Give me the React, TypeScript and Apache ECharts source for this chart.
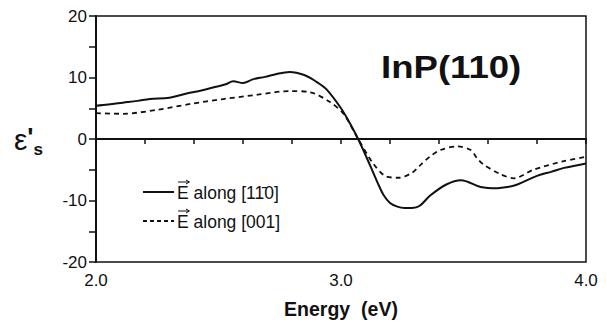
import React, { useEffect, useRef } from "react";
import * as echarts from "echarts";

const solidName = "E along [11\u03040]";
const dashedName = "E along [001]";

const solidEnergy = [2.0, 2.05, 2.11, 2.17, 2.22, 2.3, 2.37, 2.43, 2.49, 2.53, 2.56, 2.6, 2.64, 2.69, 2.73, 2.79, 2.85, 2.9, 2.94, 3.0, 3.03, 3.07, 3.12, 3.155, 3.175, 3.2, 3.23, 3.26, 3.29, 3.32, 3.364, 3.43, 3.49, 3.57, 3.64, 3.68, 3.72, 3.8, 3.86, 3.91, 3.96, 4.0];
const solidValues = [5.4, 5.6, 5.9, 6.2, 6.5, 6.7, 7.4, 7.9, 8.5, 8.9, 9.4, 9.1, 9.7, 10.1, 10.5, 10.9, 10.4, 9.3, 8.1, 5.0, 3.0, 0, -4.4, -7.6, -9.2, -10.4, -11.0, -11.2, -11.2, -10.9, -9.2, -7.4, -6.7, -7.8, -8.0, -7.8, -7.4, -6.0, -5.3, -4.7, -4.3, -4.0];

const dashedEnergy = [2.0, 2.11, 2.25, 2.385, 2.52, 2.66, 2.79, 2.875, 2.955, 3.01, 3.07, 3.13, 3.18, 3.235, 3.29, 3.325, 3.365, 3.405, 3.475, 3.53, 3.555, 3.58, 3.65, 3.705, 3.785, 3.91, 4.0];
const dashedValues = [4.2, 4.1, 4.75, 5.7, 6.5, 7.2, 7.8, 7.6, 6.0, 4.1, 0, -3.9, -6.0, -6.3, -5.5, -4.2, -2.8, -1.8, -1.2, -1.8, -3.1, -4.1, -5.7, -6.4, -5.0, -3.6, -2.9];

const xMajorLabels = [2, 3, 4];
const yMajorLabels = [-20, -10, 0, 10, 20];

const FONT = "Liberation Sans, Arial, Helvetica, sans-serif";

function pairs(xs: number[], ys: number[]) {
  return xs.map((x, i) => [x, ys[i]]);
}

function legendItem(y: number, name: string, dash: number[] | null) {
  return {
    type: "group",
    children: [
      {
        type: "line",
        shape: { x1: 143, y1: y, x2: 174, y2: y },
        style: { stroke: "#111", lineWidth: 2, lineDash: dash || undefined },
      },
      {
        type: "line",
        shape: { x1: 178, y1: y - 10, x2: 189, y2: y - 10 },
        style: { stroke: "#111", lineWidth: 1 },
      },
      {
        type: "polyline",
        shape: { points: [[186, y - 12], [189.5, y - 10], [186, y - 8]] },
        style: { stroke: "#111", lineWidth: 1, fill: "none" },
      },
      {
        type: "text",
        x: 177,
        y: y + 1,
        style: {
          text: name,
          fontSize: 17.5,
          fill: "#111",
          fontFamily: FONT,
          verticalAlign: "middle",
          textVerticalAlign: "middle",
        },
      },
    ],
  };
}

export default function App() {
  const ref = useRef<HTMLDivElement>(null);
  useEffect(() => {
    if (!ref.current) return;
    const chart = echarts.init(ref.current, undefined, { renderer: "svg" });
    chart.setOption({
      animation: false,
      backgroundColor: "#fff",
      grid: {
        left: 96,
        right: 21,
        top: 16,
        bottom: 58,
        show: true,
        borderColor: "#111",
        borderWidth: 1.5,
        backgroundColor: "transparent",
      },
      xAxis: {
        type: "value",
        min: 2,
        max: 4,
        interval: 0.2,
        name: "Energy  (eV)",
        nameLocation: "middle",
        nameGap: 37,
        nameTextStyle: { fontSize: 19.5, fontWeight: "bold", color: "#111", fontFamily: FONT },
        axisLine: { show: true, lineStyle: { color: "#111", width: 2 } },
        axisTick: { show: true, inside: false, length: 5, lineStyle: { color: "#111", width: 1.5 } },
        splitLine: { show: false },
        axisLabel: {
          margin: 10,
          fontSize: 17,
          color: "#111",
          fontFamily: FONT,
          formatter: (v: number) => {
            const m = xMajorLabels.find((t) => Math.abs(t - v) < 1e-6);
            return m !== undefined ? m.toFixed(1) : "";
          },
        },
      },
      yAxis: {
        type: "value",
        min: -20,
        max: 20,
        interval: 5,
        axisLine: { show: true, lineStyle: { color: "#111", width: 2 } },
        axisTick: { show: true, inside: false, length: 7, lineStyle: { color: "#111", width: 1.5 } },
        splitLine: { show: false },
        axisLabel: {
          margin: 9,
          fontSize: 17,
          color: "#111",
          fontFamily: FONT,
          formatter: (v: number) => {
            const m = yMajorLabels.find((t) => Math.abs(t - v) < 1e-6);
            return m !== undefined ? String(m) : "";
          },
        },
      },
      graphic: [
        {
          type: "text",
          left: 381,
          top: 52,
          style: {
            text: "InP(110)",
            fontSize: 31,
            fontWeight: "bold",
            fill: "#111",
            fontFamily: FONT,
          },
          scaleX: 1.18,
        },
        {
          type: "text",
          left: 14,
          top: 124,
          style: {
            text: "{e|ε}{p|'}{s|s}",
            fill: "#111",
            fontFamily: FONT,
            rich: {
              e: { fontSize: 30, fill: "#111", fontFamily: FONT, lineHeight: 34, verticalAlign: "top" },
              p: { fontSize: 26, fontWeight: "bold", fill: "#111", fontFamily: FONT, lineHeight: 34, verticalAlign: "top" },
              s: { fontSize: 17, fontWeight: "bold", fill: "#111", fontFamily: FONT, padding: [14, 0, 0, 0], verticalAlign: "bottom" },
            },
          },
        },
        legendItem(192, solidName, null),
        legendItem(221, dashedName, [4, 3]),
      ],
      series: [
        {
          name: solidName,
          type: "line",
          data: pairs(solidEnergy, solidValues),
          smooth: 0.35,
          symbol: "none",
          lineStyle: { color: "#111", width: 2, type: "solid" },
          itemStyle: { color: "#111" },
          markLine: {
            silent: true,
            symbol: "none",
            label: { show: false },
            lineStyle: { color: "#111", width: 1.2, type: "solid" },
            data: [{ yAxis: 0 }],
          },
        },
        {
          name: dashedName,
          type: "line",
          data: pairs(dashedEnergy, dashedValues),
          smooth: 0.3,
          symbol: "none",
          lineStyle: { color: "#111", width: 1.8, type: [5, 4] },
          itemStyle: { color: "#111" },
        },
      ],
    });
    return () => chart.dispose();
  }, []);
  return <div ref={ref} style={{ width: 607, height: 324, position: "absolute", left: 0, top: 0 }} />;
}
